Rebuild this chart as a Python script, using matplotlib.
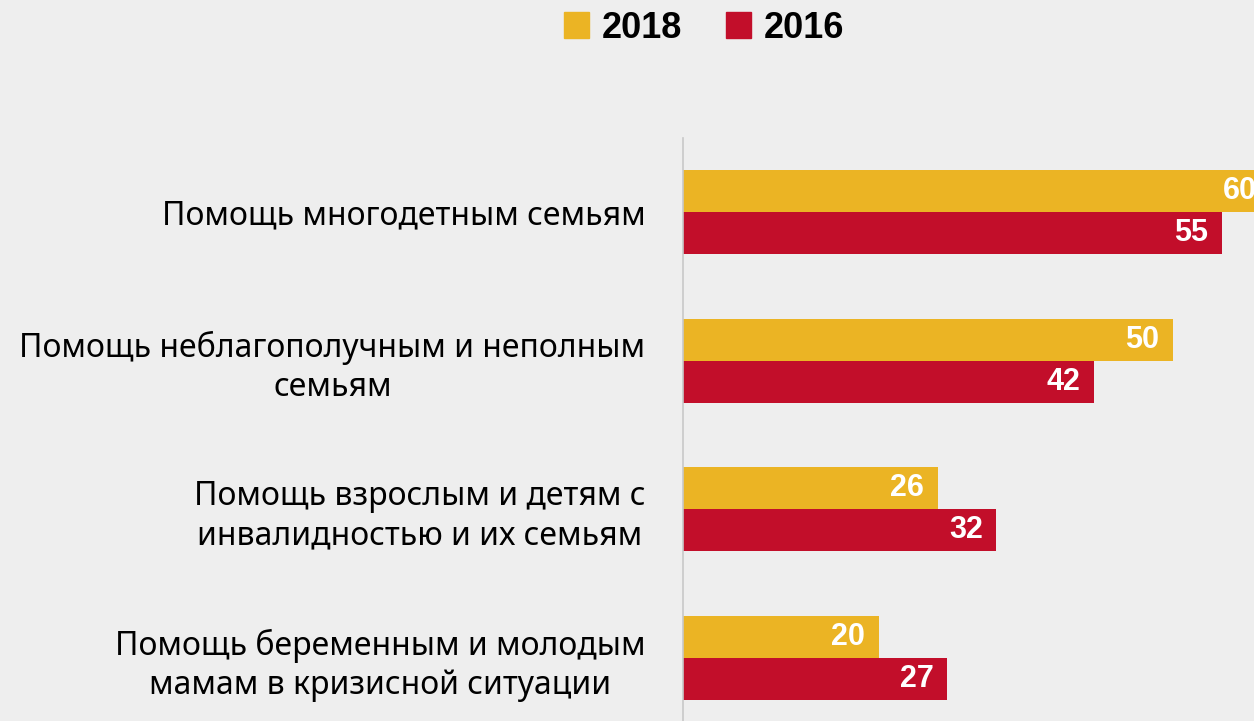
import numpy as np
import matplotlib.pyplot as plt
from matplotlib.patches import Patch

categories = ["Помощь многодетным семьям",
              "Помощь неблагополучным и неполным\nсемьям",
              "Помощь взрослым и детям с\nинвалидностью и их семьям",
              "Помощь беременным и молодым\nмамам в кризисной ситуации"]
vals_2018 = [60, 50, 26, 20]
vals_2016 = [55, 42, 32, 27]
years = ["2018", "2016"]
colors = ["#EBB424", "#C20E2A"]

plt.rcParams['font.family'] = ['Noto Sans', 'DejaVu Sans']
bold_font = ['Liberation Sans', 'DejaVu Sans']
bg = "#eeeeee"

fig = plt.figure(figsize=(12.54, 7.21), dpi=100, facecolor=bg)
ax = fig.add_axes([683/1254, 0, 1 - 683/1254, 1 - 138/721])
ax.set_facecolor(bg)

y = np.arange(len(categories))
h = 0.283
ax.barh(y - h/2, vals_2018, height=h, color=colors[0])
ax.barh(y + h/2, vals_2016, height=h, color=colors[1])

for yy, vals in [(y - h/2, vals_2018), (y + h/2, vals_2016)]:
    for yi, v in zip(yy, vals):
        ax.text(v - 1.4, yi, str(v), ha='right', va='center', color='white',
                fontsize=22, fontweight='bold', family=bold_font)

ax.set_xlim(0, 58.3)
ax.set_ylim(3.424, -0.498)
ax.set_xticks([])
ax.set_yticks(y)
ax.set_yticklabels(categories, fontsize=23, multialignment='center', linespacing=1.25)
ax.tick_params(axis='y', length=0, pad=27)
for s in ['top', 'right', 'bottom']:
    ax.spines[s].set_visible(False)
ax.spines['left'].set_color('#c8c8c8')
ax.spines['left'].set_linewidth(1.2)

handles = [Patch(color=c, label=l) for c, l in zip(colors, years)]
fig.legend(handles=handles, loc='center', bbox_to_anchor=(704/1254, 1 - 28/721), ncol=2,
           frameon=False, prop={'size': 26, 'weight': 'bold', 'family': bold_font},
           handlelength=0.7, handleheight=0.7, handletextpad=0.35, columnspacing=1.2)

fig.savefig("out.png", dpi=100, facecolor=bg)
